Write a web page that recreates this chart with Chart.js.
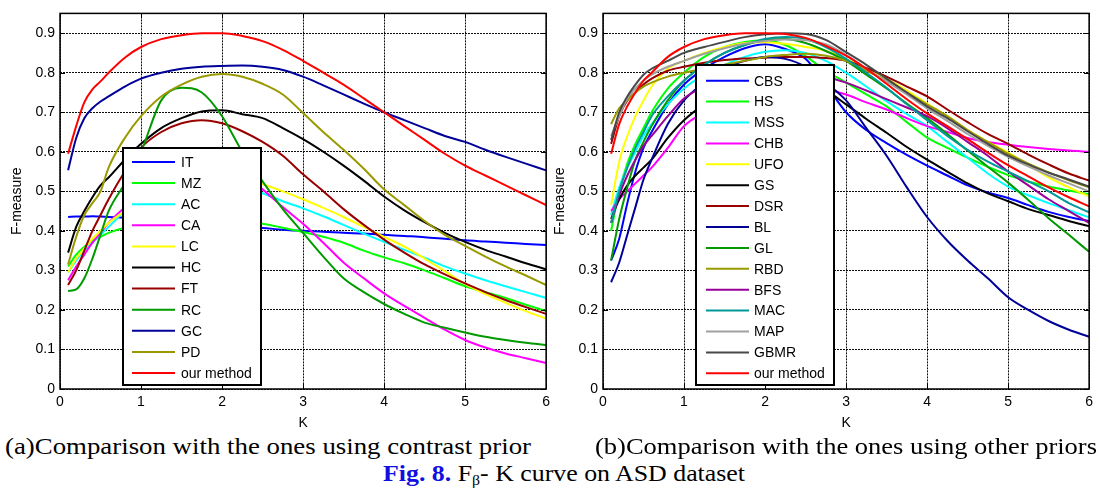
<!DOCTYPE html>
<html><head><meta charset="utf-8">
<script src="https://cdn.jsdelivr.net/npm/chart.js@4.4.0/dist/chart.umd.min.js"></script>
<style>
html,body{margin:0;padding:0;background:#fff;}
body{width:1100px;height:495px;position:relative;overflow:hidden;}
#wa{position:absolute;left:0;top:0;}
#wb{position:absolute;left:543px;top:0;}
.cap{position:absolute;font-family:"Liberation Serif","Times New Roman",serif;font-size:23px;line-height:24px;white-space:nowrap;color:#000;transform-origin:0 0;}
.cap sub{font-size:14px;vertical-align:-4px;line-height:0;}
.fig{color:#1010e0;font-weight:bold;}
</style></head><body>
<div id="wa"><canvas id="ca" width="555" height="432"></canvas></div>
<div id="wb"><canvas id="cb" width="555" height="432"></canvas></div>
<div class="cap" id="capA" style="left:5px;top:435px">(a)Comparison with the ones using contrast prior</div>
<div class="cap" id="capB" style="left:595px;top:435px">(b)Comparison with the ones using other priors</div>
<div class="cap" id="capC" style="left:383px;top:462px"><span class="fig">Fig. 8.</span> F<sub>β</sub>- K curve on ASD dataset</div>
<script>
// ---------- data ----------
const kValues = [0.1,0.2,0.3,0.4,0.5,0.6,0.8,1.0,1.25,1.5,1.75,2.0,2.25,2.5,2.75,3.0,3.25,3.5,3.75,4.0,4.25,4.5,4.75,5.0,5.25,5.5,5.75,6.0];
const xTicks = [0,1,2,3,4,5,6];
const xTickLabels = ['0','1','2','3','4','5','6'];
const yTicks = [0,0.1,0.2,0.3,0.4,0.5,0.6,0.7,0.8,0.9];
const yTickLabels = ['0','0.1','0.2','0.3','0.4','0.5','0.6','0.7','0.8','0.9'];

// (a) contrast prior
const namesA = ['IT','MZ','AC','CA','LC','HC','FT','RC','GC','PD','our method'];
const colorsA = ['#0000ff','#00ff00','#00ffff','#ff00ff','#ffff00','#000000','#990000','#009900','#000099','#999900','#ff0000'];
const IT = [0.435,0.436,0.436,0.437,0.436,0.435,0.433,0.43,0.426,0.422,0.418,0.414,0.41,0.407,0.403,0.4,0.398,0.395,0.393,0.39,0.387,0.384,0.38,0.376,0.373,0.37,0.367,0.364];
const MZ = [0.31,0.34,0.36,0.375,0.385,0.395,0.408,0.415,0.42,0.423,0.425,0.425,0.423,0.418,0.408,0.397,0.385,0.37,0.35,0.333,0.318,0.3,0.28,0.26,0.245,0.23,0.213,0.197];
const AC = [0.295,0.325,0.35,0.37,0.39,0.41,0.45,0.48,0.51,0.525,0.53,0.528,0.515,0.495,0.475,0.457,0.437,0.415,0.393,0.372,0.352,0.332,0.31,0.292,0.275,0.26,0.245,0.23];
const CA = [0.275,0.31,0.34,0.37,0.395,0.42,0.46,0.5,0.54,0.56,0.565,0.56,0.54,0.505,0.46,0.418,0.37,0.32,0.28,0.242,0.21,0.18,0.15,0.124,0.105,0.09,0.078,0.066];
const LC = [0.295,0.33,0.355,0.38,0.4,0.42,0.45,0.48,0.51,0.53,0.54,0.54,0.532,0.518,0.5,0.48,0.458,0.435,0.41,0.385,0.36,0.33,0.298,0.266,0.24,0.218,0.197,0.178];
const HC = [0.345,0.41,0.45,0.485,0.515,0.535,0.58,0.62,0.66,0.685,0.702,0.705,0.695,0.685,0.66,0.632,0.6,0.565,0.527,0.487,0.452,0.422,0.395,0.372,0.352,0.335,0.318,0.303];
const FT = [0.263,0.3,0.35,0.4,0.44,0.48,0.55,0.61,0.65,0.672,0.68,0.672,0.652,0.625,0.59,0.543,0.5,0.455,0.415,0.378,0.345,0.315,0.29,0.267,0.245,0.225,0.207,0.19];
const RC = [0.248,0.252,0.28,0.33,0.39,0.45,0.52,0.6,0.73,0.762,0.75,0.69,0.6,0.525,0.455,0.395,0.335,0.28,0.245,0.215,0.19,0.168,0.155,0.143,0.132,0.124,0.117,0.111];
const GC = [0.553,0.635,0.685,0.71,0.727,0.74,0.765,0.785,0.8,0.81,0.815,0.817,0.818,0.815,0.807,0.79,0.768,0.745,0.722,0.70,0.68,0.66,0.64,0.625,0.605,0.587,0.57,0.553];
const PD = [0.315,0.385,0.44,0.47,0.5,0.56,0.635,0.69,0.74,0.77,0.79,0.797,0.79,0.772,0.745,0.698,0.65,0.605,0.557,0.505,0.465,0.425,0.39,0.362,0.335,0.31,0.287,0.263];
const oursA = [0.595,0.665,0.725,0.758,0.778,0.8,0.838,0.865,0.885,0.895,0.9,0.9,0.893,0.88,0.858,0.83,0.8,0.77,0.735,0.70,0.665,0.63,0.595,0.565,0.54,0.515,0.49,0.465];

// (b) other priors
const namesB = ['CBS','HS','MSS','CHB','UFO','GS','DSR','BL','GL','RBD','BFS','MAC','MAP','GBMR','our method'];
const colorsB = ['#0000ff','#00ff00','#00ffff','#ff00ff','#ffff00','#000000','#990000','#000099','#009900','#999900','#990099','#009999','#a0a0a0','#484848','#ff0000'];
const CBS = [0.325,0.38,0.47,0.55,0.61,0.65,0.72,0.77,0.81,0.84,0.862,0.872,0.86,0.835,0.77,0.7,0.655,0.622,0.592,0.565,0.54,0.515,0.497,0.483,0.465,0.448,0.435,0.425];
const HS = [0.4,0.5,0.57,0.62,0.66,0.7,0.76,0.8,0.84,0.865,0.878,0.882,0.87,0.842,0.805,0.775,0.745,0.715,0.675,0.636,0.61,0.585,0.562,0.541,0.525,0.512,0.502,0.493];
const MSS = [0.44,0.51,0.56,0.6,0.64,0.67,0.72,0.76,0.795,0.82,0.84,0.853,0.857,0.85,0.83,0.8,0.765,0.728,0.695,0.665,0.625,0.585,0.545,0.512,0.49,0.47,0.452,0.434];
const CHB = [0.45,0.48,0.5,0.52,0.54,0.56,0.61,0.665,0.7,0.73,0.75,0.765,0.77,0.768,0.758,0.745,0.725,0.707,0.685,0.665,0.65,0.635,0.625,0.618,0.612,0.607,0.603,0.6];
const UFO = [0.465,0.575,0.64,0.69,0.73,0.765,0.81,0.83,0.85,0.865,0.875,0.877,0.873,0.865,0.855,0.835,0.81,0.785,0.755,0.722,0.69,0.655,0.625,0.598,0.567,0.535,0.51,0.487];
const GS = [0.43,0.48,0.515,0.54,0.56,0.58,0.635,0.68,0.72,0.75,0.77,0.78,0.78,0.775,0.755,0.72,0.683,0.648,0.612,0.58,0.55,0.52,0.495,0.475,0.455,0.44,0.425,0.412];
const DSR = [0.62,0.69,0.73,0.75,0.77,0.785,0.805,0.815,0.825,0.832,0.836,0.838,0.84,0.84,0.837,0.83,0.812,0.79,0.765,0.74,0.707,0.675,0.645,0.62,0.593,0.568,0.545,0.527];
const BL = [0.27,0.32,0.39,0.46,0.53,0.58,0.67,0.73,0.775,0.81,0.83,0.84,0.835,0.815,0.775,0.73,0.66,0.59,0.51,0.435,0.375,0.325,0.28,0.232,0.2,0.172,0.15,0.132];
const GL = [0.325,0.43,0.51,0.58,0.625,0.665,0.73,0.78,0.82,0.85,0.87,0.882,0.885,0.875,0.855,0.83,0.795,0.76,0.722,0.685,0.645,0.603,0.562,0.522,0.478,0.432,0.39,0.347];
const RBD = [0.67,0.71,0.73,0.75,0.765,0.775,0.79,0.8,0.81,0.82,0.83,0.84,0.845,0.848,0.843,0.83,0.805,0.78,0.75,0.72,0.69,0.655,0.625,0.595,0.57,0.548,0.528,0.51];
const BFS = [0.42,0.49,0.54,0.58,0.615,0.64,0.69,0.735,0.765,0.785,0.797,0.802,0.805,0.8,0.79,0.775,0.755,0.733,0.712,0.69,0.66,0.625,0.59,0.55,0.515,0.48,0.45,0.42];
const MAC = [0.42,0.5,0.56,0.61,0.65,0.69,0.74,0.78,0.82,0.85,0.87,0.885,0.89,0.885,0.865,0.835,0.8,0.762,0.72,0.68,0.64,0.605,0.575,0.55,0.525,0.5,0.47,0.447];
const MAP = [0.64,0.69,0.735,0.76,0.78,0.795,0.815,0.83,0.848,0.862,0.873,0.88,0.884,0.882,0.872,0.845,0.81,0.778,0.745,0.71,0.678,0.645,0.615,0.587,0.563,0.54,0.52,0.5];
const GBMR = [0.63,0.7,0.74,0.77,0.795,0.81,0.83,0.85,0.865,0.878,0.89,0.897,0.9,0.898,0.883,0.852,0.82,0.785,0.75,0.715,0.685,0.652,0.62,0.59,0.568,0.547,0.53,0.512];
const oursB = [0.595,0.67,0.715,0.75,0.78,0.8,0.84,0.865,0.885,0.895,0.9,0.9,0.898,0.888,0.868,0.843,0.81,0.772,0.733,0.697,0.665,0.632,0.598,0.566,0.538,0.51,0.485,0.462];

const seriesA = [IT,MZ,AC,CA,LC,HC,FT,RC,GC,PD,oursA];
const seriesB = [CBS,HS,MSS,CHB,UFO,GS,DSR,BL,GL,RBD,BFS,MAC,MAP,GBMR,oursB];

// ---------- drawing ----------
const FONT = '"Liberation Sans", Arial, sans-serif';
Chart.defaults.color = '#000';
Chart.defaults.font.family = FONT;

const framePlugin = {
  id: 'boxLegend',
  afterDraw(chart, args, o) {
    const ctx = chart.ctx, ca = chart.chartArea;
    ctx.save();
    ctx.strokeStyle = '#000'; ctx.lineWidth = 1.5;
    ctx.strokeRect(ca.left, ca.top, ca.right - ca.left, ca.bottom - ca.top);
    ctx.lineWidth = 1;
    const xs = chart.scales.x, ys = chart.scales.y;
    ctx.beginPath();
    xTicks.forEach(v => { const px = Math.round(xs.getPixelForValue(v)) + 0.5;
      ctx.moveTo(px, ca.top); ctx.lineTo(px, ca.top + 5);
      ctx.moveTo(px, ca.bottom); ctx.lineTo(px, ca.bottom - 5); });
    yTicks.forEach(v => { const py = Math.round(ys.getPixelForValue(v)) + 0.5;
      ctx.moveTo(ca.left, py); ctx.lineTo(ca.left + 5, py);
      ctx.moveTo(ca.right, py); ctx.lineTo(ca.right - 5, py); });
    ctx.stroke();
    ctx.fillStyle = '#fff';
    ctx.fillRect(o.x, o.y, o.w, o.h);
    ctx.lineWidth = 2; ctx.strokeStyle = '#000';
    ctx.strokeRect(o.x, o.y, o.w, o.h);
    ctx.font = '14px ' + FONT; ctx.textBaseline = 'middle'; ctx.textAlign = 'left';
    chart.data.datasets.forEach((ds, i) => {
      const y = o.first + i * o.step;
      ctx.strokeStyle = ds.borderColor; ctx.lineWidth = 2;
      ctx.beginPath(); ctx.moveTo(o.lx0, y); ctx.lineTo(o.lx1, y); ctx.stroke();
      ctx.fillStyle = '#000';
      ctx.fillText(ds.label, o.tx, y + 1);
    });
    ctx.restore();
  }
};

function makeChart(id, names, colors, series, legend) {
  const n = names.length;
  const datasets = names.map((nm, i) => ({
    label: nm,
    data: kValues.map((k, j) => ({ x: k, y: series[i][j] })),
    borderColor: colors[i], backgroundColor: colors[i],
    borderWidth: 2, pointRadius: 0, fill: false,
    cubicInterpolationMode: 'monotone', order: n - i
  }));
  const gridOpts = { color: 'rgba(0,0,0,0.95)', lineWidth: 1, drawTicks: false };
  return new Chart(document.getElementById(id), {
    type: 'line',
    data: { datasets },
    options: {
      responsive: false, animation: false, devicePixelRatio: 1,
      layout: { padding: { left: 0, top: 5, right: 8, bottom: 0 } },
      plugins: { legend: { display: false }, tooltip: { enabled: false }, boxLegend: legend },
      scales: {
        x: {
          type: 'linear', min: 0, max: 6,
          afterBuildTicks: s => { s.ticks = xTicks.map(v => ({ value: v })); },
          afterFit: s => { s.height = 43; },
          ticks: { callback: (v, i) => xTickLabels[i], padding: 5, maxRotation: 0, autoSkip: false,
                   font: { family: FONT, size: 14 }, color: '#000' },
          grid: gridOpts,
          border: { display: false, dash: [2, 1] },
          title: { display: true, text: 'K', color: '#000', font: { family: FONT, size: 14 }, padding: { top: 0, bottom: 0 } }
        },
        y: {
          type: 'linear', min: 0, max: 0.95,
          afterBuildTicks: s => { s.ticks = yTicks.map(v => ({ value: v })); },
          afterFit: s => { s.width = 60; },
          ticks: { callback: (v, i) => yTickLabels[i], padding: 5, autoSkip: false,
                   font: { family: FONT, size: 14 }, color: '#000' },
          grid: gridOpts,
          border: { display: false, dash: [2, 1] },
          title: { display: true, text: 'F-measure', color: '#000', font: { family: FONT, size: 14 }, padding: { top: 9, bottom: 0 } }
        }
      }
    },
    plugins: [framePlugin]
  });
}

makeChart('ca', namesA, colorsA, seriesA,
  { x: 123, y: 148, w: 138, h: 237, first: 162, step: 21.1, lx0: 132, lx1: 175, tx: 181 });
makeChart('cb', namesB, colorsB, seriesB,
  { x: 153, y: 65, w: 138, h: 320, first: 80.7, step: 20.9, lx0: 163, lx1: 206, tx: 211 });

function fitW(id, w) {
  const el = document.getElementById(id);
  const r = el.getBoundingClientRect().width;
  el.style.transform = 'scaleX(' + (w / r) + ')';
}
fitW('capA', 526);
fitW('capB', 502);
fitW('capC', 362);
</script>
</body></html>
